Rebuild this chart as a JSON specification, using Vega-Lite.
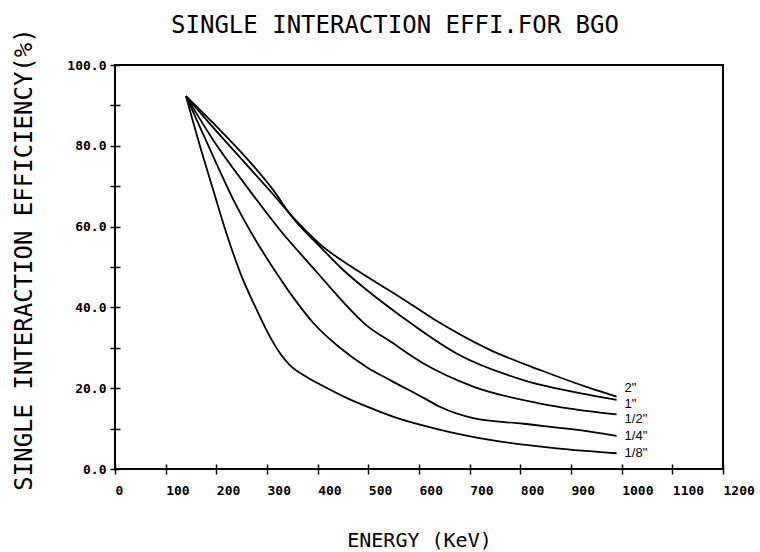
{
  "$schema": "https://vega.github.io/schema/vega-lite/v6.json",
  "width": 608,
  "height": 404,
  "autosize": "none",
  "padding": {"left": 115, "top": 65, "right": 37, "bottom": 83},
  "background": "white",
  "title": {
    "text": "SINGLE INTERACTION EFFI.FOR BGO",
    "font": "DejaVu Sans Mono",
    "fontSize": 24,
    "fontWeight": "normal",
    "color": "black",
    "anchor": "middle",
    "dx": -24,
    "offset": -29,
    "baseline": "alphabetic"
  },
  "config": {
    "view": {"stroke": "black", "strokeWidth": 2},
    "axis": {
      "domain": false,
      "grid": false,
      "ticks": true,
      "tickColor": "black",
      "tickWidth": 1.5,
      "tickSize": 10,
      "offset": -5,
      "labelColor": "black",
      "labelFont": "DejaVu Sans Mono",
      "labelFontWeight": "bold",
      "labelFontSize": 13,
      "labelFlush": false,
      "labelOverlap": false,
      "titleColor": "black",
      "titleFont": "DejaVu Sans Mono",
      "titleFontWeight": "normal"
    }
  },
  "datasets": {
    "curves": [
      {"size": "1/8\"", "E": 140, "eff": 92.3},
      {"size": "1/8\"", "E": 168, "eff": 79.8},
      {"size": "1/8\"", "E": 194, "eff": 69.0},
      {"size": "1/8\"", "E": 220, "eff": 58.3},
      {"size": "1/8\"", "E": 249, "eff": 48.0},
      {"size": "1/8\"", "E": 280, "eff": 39.3},
      {"size": "1/8\"", "E": 306, "eff": 32.7},
      {"size": "1/8\"", "E": 326, "eff": 28.6},
      {"size": "1/8\"", "E": 345, "eff": 25.7},
      {"size": "1/8\"", "E": 375, "eff": 23.0},
      {"size": "1/8\"", "E": 405, "eff": 20.9},
      {"size": "1/8\"", "E": 457, "eff": 17.6},
      {"size": "1/8\"", "E": 500, "eff": 15.3},
      {"size": "1/8\"", "E": 550, "eff": 12.9},
      {"size": "1/8\"", "E": 642, "eff": 9.7},
      {"size": "1/8\"", "E": 740, "eff": 7.2},
      {"size": "1/8\"", "E": 872, "eff": 5.1},
      {"size": "1/8\"", "E": 990, "eff": 3.9},

      {"size": "1/4\"", "E": 140, "eff": 92.3},
      {"size": "1/4\"", "E": 194, "eff": 77.3},
      {"size": "1/4\"", "E": 233, "eff": 66.8},
      {"size": "1/4\"", "E": 273, "eff": 57.6},
      {"size": "1/4\"", "E": 316, "eff": 49.0},
      {"size": "1/4\"", "E": 351, "eff": 42.6},
      {"size": "1/4\"", "E": 391, "eff": 36.2},
      {"size": "1/4\"", "E": 444, "eff": 30.0},
      {"size": "1/4\"", "E": 497, "eff": 25.2},
      {"size": "1/4\"", "E": 543, "eff": 22.0},
      {"size": "1/4\"", "E": 609, "eff": 17.6},
      {"size": "1/4\"", "E": 641, "eff": 15.4},
      {"size": "1/4\"", "E": 707, "eff": 12.6},
      {"size": "1/4\"", "E": 806, "eff": 11.2},
      {"size": "1/4\"", "E": 905, "eff": 9.8},
      {"size": "1/4\"", "E": 990, "eff": 8.2},

      {"size": "1/2\"", "E": 140, "eff": 92.3},
      {"size": "1/2\"", "E": 194, "eff": 81.4},
      {"size": "1/2\"", "E": 260, "eff": 69.9},
      {"size": "1/2\"", "E": 326, "eff": 59.1},
      {"size": "1/2\"", "E": 395, "eff": 49.2},
      {"size": "1/2\"", "E": 447, "eff": 41.8},
      {"size": "1/2\"", "E": 497, "eff": 35.5},
      {"size": "1/2\"", "E": 543, "eff": 31.6},
      {"size": "1/2\"", "E": 609, "eff": 26.1},
      {"size": "1/2\"", "E": 707, "eff": 20.4},
      {"size": "1/2\"", "E": 839, "eff": 16.2},
      {"size": "1/2\"", "E": 990, "eff": 13.5},

      {"size": "1\"", "E": 140, "eff": 92.3},
      {"size": "1\"", "E": 194, "eff": 85.6},
      {"size": "1\"", "E": 260, "eff": 76.9},
      {"size": "1\"", "E": 312, "eff": 69.1},
      {"size": "1\"", "E": 352, "eff": 62.0},
      {"size": "1\"", "E": 405, "eff": 55.0},
      {"size": "1\"", "E": 451, "eff": 49.2},
      {"size": "1\"", "E": 497, "eff": 44.3},
      {"size": "1\"", "E": 566, "eff": 37.7},
      {"size": "1\"", "E": 674, "eff": 28.6},
      {"size": "1\"", "E": 806, "eff": 22.0},
      {"size": "1\"", "E": 938, "eff": 18.3},
      {"size": "1\"", "E": 990, "eff": 17.1},

      {"size": "2\"", "E": 140, "eff": 92.3},
      {"size": "2\"", "E": 194, "eff": 84.5},
      {"size": "2\"", "E": 260, "eff": 75.3},
      {"size": "2\"", "E": 312, "eff": 68.0},
      {"size": "2\"", "E": 352, "eff": 62.2},
      {"size": "2\"", "E": 405, "eff": 55.6},
      {"size": "2\"", "E": 480, "eff": 49.0},
      {"size": "2\"", "E": 562, "eff": 42.6},
      {"size": "2\"", "E": 628, "eff": 37.2},
      {"size": "2\"", "E": 740, "eff": 29.5},
      {"size": "2\"", "E": 839, "eff": 24.5},
      {"size": "2\"", "E": 938, "eff": 20.0},
      {"size": "2\"", "E": 990, "eff": 17.9}
    ],
    "labels": [
      {"label": "2\"", "E": 990, "eff": 20.1},
      {"label": "1\"", "E": 990, "eff": 16.2},
      {"label": "1/2\"", "E": 990, "eff": 12.4},
      {"label": "1/4\"", "E": 990, "eff": 8.2},
      {"label": "1/8\"", "E": 990, "eff": 4.0}
    ]
  },
  "layer": [
    {
      "data": {"name": "curves"},
      "mark": {"type": "line", "interpolate": "monotone", "color": "black", "strokeWidth": 1.8},
      "encoding": {
        "x": {
          "field": "E",
          "type": "quantitative",
          "scale": {"domain": [0, 1200], "nice": false},
          "axis": {
            "values": [0, 100, 200, 300, 400, 500, 600, 700, 800, 900, 1000, 1100, 1200],
            "format": "d",
            "labelAlign": "left",
            "labelPadding": 10,
            "title": "ENERGY  (KeV)",
            "titleFontSize": 20,
            "titleX": 304,
            "titleY": 76,
            "titleAlign": "center",
            "titleBaseline": "middle"
          }
        },
        "y": {
          "field": "eff",
          "type": "quantitative",
          "scale": {"domain": [0, 100], "nice": false},
          "axis": {
            "values": [0, 10, 20, 30, 40, 50, 60, 70, 80, 90, 100],
            "labelExpr": "datum.value % 20 === 0 ? format(datum.value, '.1f') : ''",
            "labelPadding": 4,
            "title": "SINGLE INTERACTION EFFICIENCY(%)",
            "titleFontSize": 24,
            "titleAngle": 270,
            "titleX": -96,
            "titleY": 194,
            "titleAlign": "center",
            "titleBaseline": "middle"
          }
        },
        "detail": {"field": "size", "type": "nominal"}
      }
    },
    {
      "data": {"name": "labels"},
      "mark": {"type": "text", "align": "left", "baseline": "middle", "dx": 8, "font": "Liberation Sans", "fontSize": 13, "color": "black"},
      "encoding": {
        "x": {"field": "E", "type": "quantitative"},
        "y": {"field": "eff", "type": "quantitative"},
        "text": {"field": "label", "type": "nominal"}
      }
    }
  ]
}
